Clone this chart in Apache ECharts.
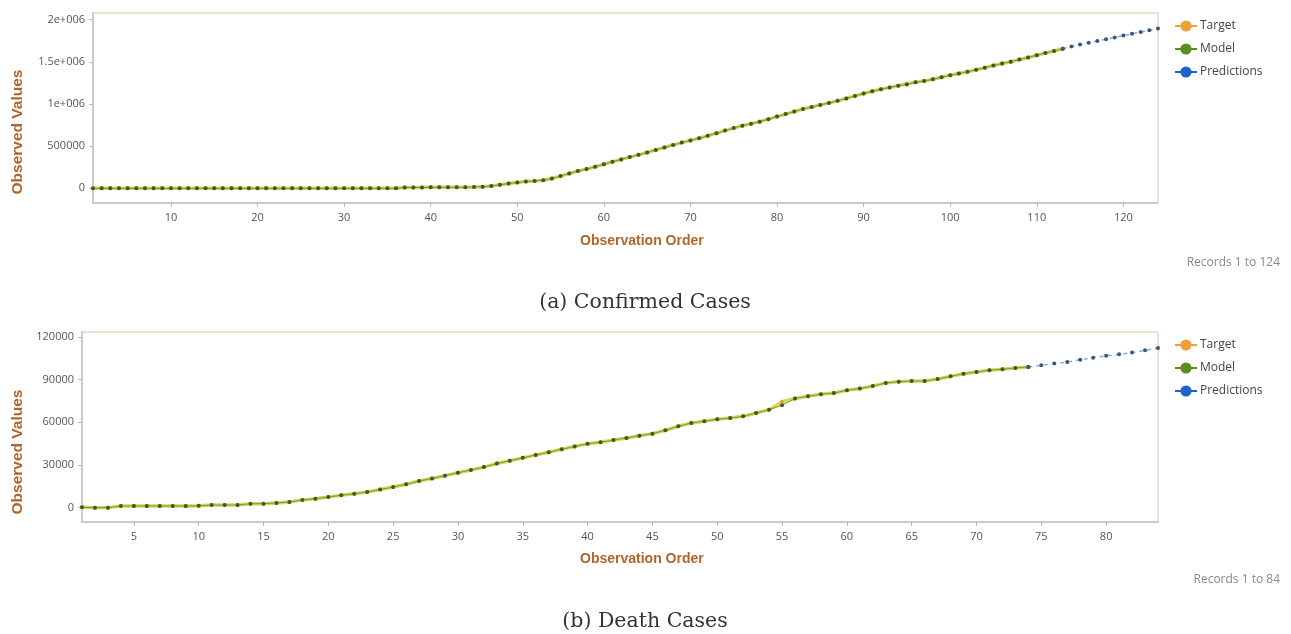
<!DOCTYPE html>
<html>
<head>
<meta charset="utf-8">
<script src="https://cdn.jsdelivr.net/npm/echarts@6/dist/echarts.min.js"></script>
<style>
html,body{margin:0;padding:0;background:#fff;}
#chart{width:1291px;height:634px;}
</style>
</head>
<body>
<div id="chart"></div>
<script>
// ---------- Data: (a) Confirmed Cases (records 1..124) ----------
const confirmedTarget = [
  0,0,0,0,0,0,0,0,0,0,
  0,0,0,0,0,0,0,0,0,0,
  0,0,0,0,0,0,0,0,0,0,
  0,0,0,0,0,0,9000,10000,11000,11500,
  12000,12500,13000,14000,16000,20000,28000,42000,57000,70000,
  80000,88000,96000,116000,145000,176000,205000,228000,256000,285000,
  314000,343000,370000,397000,425000,455000,485000,514000,542000,568000,
  594000,623000,653000,684000,714000,743000,765000,790000,820000,850000,
  880000,910000,940000,964000,989000,1012000,1037000,1066000,1095000,1124000,
  1150000,1174000,1195000,1216000,1240000,1256000,1272000,1292000,1316000,1340000,
  1360000,1381000,1405000,1430000,1455000,1479000,1501000,1526000,1551000,1578000,
  1604000,1628000,1655000
];
const confirmedModel = [
  0,0,0,0,0,0,0,0,0,0,
  0,0,0,0,0,0,0,0,0,0,
  0,0,0,0,0,0,0,0,0,0,
  0,0,0,0,0,0,9000,10000,11000,11500,
  12000,12500,13000,14000,16000,20000,28000,42000,57000,70000,
  80000,88000,96000,116000,145000,176000,205000,228000,256000,285000,
  314000,343000,370000,397000,425000,455000,485000,514000,542000,568000,
  594000,623000,653000,684000,714000,743000,765000,790000,820000,850000,
  880000,910000,940000,964000,989000,1012000,1037000,1066000,1095000,1124000,
  1150000,1174000,1195000,1216000,1232000,1256000,1272000,1292000,1316000,1340000,
  1360000,1381000,1405000,1430000,1455000,1479000,1501000,1526000,1551000,1578000,
  1604000,1628000,1655000
];
const confirmedPredStart = 113;
const confirmedPred = [1655000,1682000,1704000,1726000,1746000,1767000,1788000,1810000,1831000,1852000,1874000,1895000];
const confirmedXTicks = [10,20,30,40,50,60,70,80,90,100,110,120];
const confirmedYTicks = [0,500000,1000000,1500000,2000000];
const confirmedYLabels = ['0','500000','1e+006','1.5e+006','2e+006'];

// ---------- Data: (b) Death Cases (records 1..84) ----------
const deathTarget = [
  200,0,0,1100,1150,1150,1200,1200,1200,1250,
  1800,1850,1850,2700,2800,3300,4000,5400,6300,7500,
  8700,9800,11000,12700,14500,16400,18700,20500,22500,24500,
  26500,28500,31000,33000,35000,37000,39000,41000,43000,45000,
  46000,47500,49000,50500,52000,54400,57200,59500,60700,62100,
  63000,64200,66500,68900,74500,76700,78300,79700,80600,82500,
  83700,85500,87600,88600,89000,89000,90400,92300,94200,95400,
  96600,97300,98200,98900
];
const deathModel = [
  200,0,0,1100,1150,1150,1200,1200,1200,1250,
  1800,1850,1850,2700,2800,3300,4000,5400,6300,7500,
  8700,9800,11000,12700,14500,16400,18700,20500,22500,24500,
  26500,28500,31000,33000,35000,37000,39000,41000,43000,45000,
  46000,47500,49000,50500,52000,54400,57200,59500,60700,62100,
  63000,64200,66500,68900,72000,76700,78300,79700,80600,82500,
  83700,85500,87600,88600,89000,89000,90400,92300,94200,95400,
  96600,97300,98200,98900
];
const deathPredStart = 74;
const deathPred = [98900,100100,101300,102400,104000,105400,106800,107800,109000,110600,112300];
const deathXTicks = [5,10,15,20,25,30,35,40,45,50,55,60,65,70,75,80];
const deathYTicks = [0,30000,60000,90000,120000];
const deathYLabels = ['0','30000','60000','90000','120000'];

const seriesNames = ['Target','Model','Predictions'];
const legendColors = ['#F0A038','#5A8C1E','#1E62D0'];
const recordsLabels = ['Records 1 to 124','Records 1 to 84'];
const captions = ['(a) Confirmed Cases','(b) Death Cases'];
const axisTitleX = 'Observation Order';
const axisTitleY = 'Observed Values';

// ---------- helpers ----------
function pairs(arr, start){ return arr.map((v,i)=>[start+i, v]); }

const labelFont = {color:'#555', fontSize:11, fontFamily:'"Open Sans", "Noto Sans", sans-serif'};
function xAxis(grid, max, ticks){
  return {
    type:'value', gridIndex:grid, min:1, max:max,
    axisLine:{show:true, onZero:false, lineStyle:{color:'#c4c4c4', width:1.5}},
    axisTick:{show:true, length:4, lineStyle:{color:'#bbb'}, customValues:ticks},
    axisLabel:Object.assign({margin:9, customValues:ticks}, labelFont),
    splitLine:{show:false}
  };
}
function yAxis(grid, min, max, ticks, labels){
  return {
    type:'value', gridIndex:grid, min:min, max:max,
    axisLine:{show:true, lineStyle:{color:'#c4c4c4', width:1.5}},
    axisTick:{show:true, length:4, lineStyle:{color:'#bbb'}, customValues:ticks},
    axisLabel:Object.assign({margin:8, customValues:ticks,
      formatter:function(v){ const k = ticks.indexOf(v); return k>=0 ? labels[k] : ''; }}, labelFont),
    splitLine:{show:false}
  };
}
function mkSeries(grid, target, model, pred, predStart){
  return [
    {name:seriesNames[0], type:'line', xAxisIndex:grid, yAxisIndex:grid, data:pairs(target,1),
     symbol:'circle', symbolSize:4, itemStyle:{color:'#E8A040'}, lineStyle:{color:'#D8D660', width:3.5},
     emphasis:{disabled:true}, animation:false, z:2},
    {name:seriesNames[1], type:'line', xAxisIndex:grid, yAxisIndex:grid, data:pairs(model,1),
     symbol:'circle', symbolSize:4, itemStyle:{color:'#3F5B20'}, lineStyle:{color:'#7E9A34', width:1},
     emphasis:{disabled:true}, animation:false, z:3},
    {name:seriesNames[2], type:'line', xAxisIndex:grid, yAxisIndex:grid, data:pairs(pred,predStart),
     symbol:'circle', symbolSize:4, itemStyle:{color:'#3C5578'}, lineStyle:{color:'#7FAEE6', width:1.5, type:[4,4]},
     emphasis:{disabled:true}, animation:false, z:3}
  ];
}
function mkLegend(top){
  return {
    orient:'vertical', left:1169, top:top, itemWidth:22, itemHeight:14, itemGap:11,
    selectedMode:false,
    textStyle:{color:'#444', fontSize:12, fontFamily:'"Open Sans", "Noto Sans", sans-serif', padding:[0,0,0,-2]},
    data:seriesNames.map((n,k)=>({name:n,
      itemStyle:{color:legendColors[k], borderWidth:0}, lineStyle:{color:legendColors[k], width:2, type:'solid'}}))
  };
}

const titleStyle = {fill:'#B0652A', font:'bold 14px "Liberation Sans", sans-serif'};
const titleStyleY = {fill:'#B0652A', font:'bold 15.5px "Liberation Sans", sans-serif'};
const graphic = [
  {type:'text', left:580, top:234, style:Object.assign({text:axisTitleX}, titleStyle)},
  {type:'text', left:580, top:552, style:Object.assign({text:axisTitleX}, titleStyle)},
  {type:'text', x:10, y:132, rotation:Math.PI/2, style:Object.assign({text:axisTitleY, align:'center', verticalAlign:'top'}, titleStyleY)},
  {type:'text', x:10, y:452, rotation:Math.PI/2, style:Object.assign({text:axisTitleY, align:'center', verticalAlign:'top'}, titleStyleY)},
  {type:'text', x:1280, y:257, style:{text:recordsLabels[0], align:'right', fill:'#8a8a8a', font:'12px "Open Sans", sans-serif'}},
  {type:'text', x:1280, y:574, style:{text:recordsLabels[1], align:'right', fill:'#8a8a8a', font:'12px "Open Sans", sans-serif'}},
  {type:'text', x:645, y:292, style:{text:captions[0], align:'center', fill:'#333', font:'20.5px "DejaVu Serif", serif'}},
  {type:'text', x:645, y:611, style:{text:captions[1], align:'center', fill:'#333', font:'20.5px "DejaVu Serif", serif'}}
];

const chart = echarts.init(document.getElementById('chart'), null, {renderer:'canvas'});
chart.setOption({
  backgroundColor:'#fff',
  animation:false,
  grid:[
    {left:93, top:13, width:1065, height:190, show:true, borderColor:'#dedcc8', borderWidth:1.5, containLabel:false},
    {left:82, top:332, width:1076, height:190, show:true, borderColor:'#dedcc8', borderWidth:1.5, containLabel:false}
  ],
  xAxis:[xAxis(0,124,confirmedXTicks), xAxis(1,84,deathXTicks)],
  yAxis:[yAxis(0,-174000,2078000,confirmedYTicks,confirmedYLabels), yAxis(1,-10100,123500,deathYTicks,deathYLabels)],
  legend:[mkLegend(15), mkLegend(334)],
  series:[].concat(mkSeries(0,confirmedTarget,confirmedModel,confirmedPred,confirmedPredStart),
                   mkSeries(1,deathTarget,deathModel,deathPred,deathPredStart)),
  graphic:graphic
});
</script>
</body>
</html>
